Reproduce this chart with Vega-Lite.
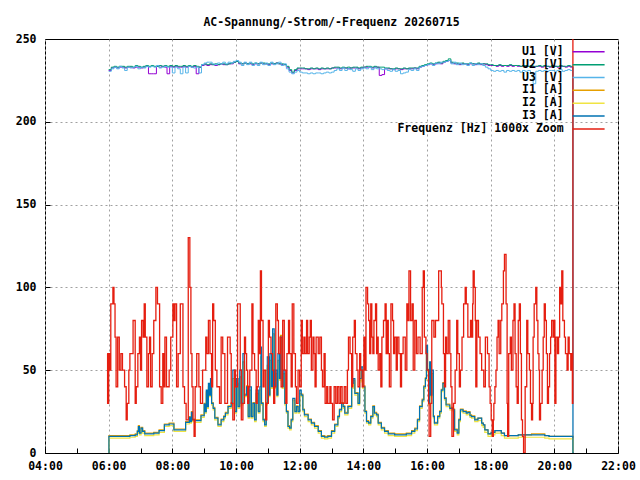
{
"$schema": "https://vega.github.io/schema/vega-lite/v6.json",
"width": 573, "height": 414,
"autosize": "none",
"padding": {"left": 45, "top": 39, "right": 22, "bottom": 27},
"background": "white",
"title": {"text": "AC-Spannung/-Strom/-Frequenz 20260715", "font": "DejaVu Sans Mono", "fontSize": 11.5, "fontWeight": "bold", "anchor": "middle", "frame": "group", "baseline": "alphabetic", "offset": 14, "dy": 18, "color": "black"},
"datasets": {
"volt": [
{"m":360,"u1":231,"u2":231.5,"u3":230.5},{"m":365,"u1":232.5,"u2":233,"u3":232},{"m":370,"u1":233,"u2":233.5,"u3":233},{"m":375,"u1":232.5,"u2":233,"u3":232},{"m":380,"u1":233,"u2":233.5,"u3":233.5},{"m":385,"u1":233,"u2":233.5,"u3":232.5},{"m":390,"u1":232.5,"u2":233,"u3":231},{"m":395,"u1":233,"u2":233.5,"u3":233},{"m":400,"u1":233,"u2":233.5,"u3":232.5},{"m":405,"u1":232.5,"u2":233,"u3":233},{"m":410,"u1":233,"u2":234,"u3":233.5},{"m":415,"u1":233,"u2":233.5,"u3":232},{"m":420,"u1":232.5,"u2":233,"u3":233},{"m":425,"u1":233,"u2":233.5,"u3":232.5},{"m":430,"u1":233.5,"u2":234,"u3":233.5},{"m":435,"u1":229,"u2":233.5,"u3":233},{"m":440,"u1":229,"u2":234,"u3":233.5},{"m":445,"u1":229,"u2":233.5,"u3":233},{"m":450,"u1":233.5,"u2":233.5,"u3":234},{"m":455,"u1":233,"u2":234,"u3":232.5},{"m":460,"u1":233.5,"u2":233.5,"u3":233},{"m":465,"u1":233,"u2":234,"u3":233.5},{"m":470,"u1":229,"u2":233.5,"u3":233},{"m":475,"u1":233.5,"u2":234,"u3":233},{"m":480,"u1":233,"u2":233.5,"u3":229.5},{"m":485,"u1":233.5,"u2":234,"u3":233},{"m":490,"u1":233,"u2":233.5,"u3":232},{"m":495,"u1":233,"u2":233.5,"u3":229},{"m":500,"u1":233.5,"u2":234,"u3":233},{"m":505,"u1":233,"u2":233.5,"u3":229.5},{"m":510,"u1":233.5,"u2":234,"u3":233.5},{"m":515,"u1":233,"u2":233.5,"u3":233},{"m":520,"u1":233.5,"u2":234,"u3":232.5},{"m":525,"u1":229,"u2":233.5,"u3":233},{"m":530,"u1":233,"u2":233,"u3":229.5},{"m":535,"u1":234,"u2":234.5,"u3":234.5},{"m":540,"u1":234.5,"u2":235,"u3":235.5},{"m":545,"u1":234,"u2":234.5,"u3":236},{"m":550,"u1":234.5,"u2":235,"u3":236},{"m":555,"u1":234.5,"u2":234.5,"u3":235},{"m":560,"u1":234,"u2":235,"u3":234.5},{"m":565,"u1":234.5,"u2":234.5,"u3":235.5},{"m":570,"u1":235,"u2":235,"u3":235},{"m":575,"u1":234.5,"u2":235,"u3":236},{"m":580,"u1":234.5,"u2":234.5,"u3":235},{"m":585,"u1":235,"u2":235,"u3":236},{"m":590,"u1":235,"u2":235.5,"u3":235.5},{"m":595,"u1":236,"u2":236,"u3":236.5},{"m":600,"u1":236.5,"u2":236.5,"u3":237},{"m":605,"u1":235,"u2":235.5,"u3":236},{"m":610,"u1":235,"u2":235,"u3":234},{"m":615,"u1":235.5,"u2":235.5,"u3":236},{"m":620,"u1":235,"u2":235,"u3":234.5},{"m":625,"u1":235,"u2":235.5,"u3":236},{"m":630,"u1":234.5,"u2":235,"u3":234},{"m":635,"u1":235,"u2":235.5,"u3":235.5},{"m":640,"u1":235,"u2":235,"u3":234},{"m":645,"u1":235.5,"u2":235.5,"u3":236},{"m":650,"u1":235,"u2":235.5,"u3":234.5},{"m":655,"u1":235,"u2":235,"u3":235.5},{"m":660,"u1":234.5,"u2":235,"u3":234},{"m":665,"u1":235,"u2":235.5,"u3":236},{"m":670,"u1":235,"u2":235,"u3":234.5},{"m":675,"u1":235.5,"u2":235.5,"u3":235},{"m":680,"u1":235,"u2":235,"u3":236},{"m":685,"u1":234.5,"u2":235,"u3":234},{"m":690,"u1":234.5,"u2":234.5,"u3":235},{"m":695,"u1":233,"u2":233.5,"u3":232},{"m":700,"u1":231,"u2":231.5,"u3":230},{"m":705,"u1":229.5,"u2":230,"u3":229},{"m":710,"u1":231,"u2":231.5,"u3":230},{"m":715,"u1":232,"u2":232.5,"u3":231},{"m":720,"u1":232,"u2":232.5,"u3":230},{"m":725,"u1":232,"u2":232.5,"u3":229.5},{"m":730,"u1":232,"u2":232,"u3":229.5},{"m":735,"u1":231.5,"u2":232,"u3":229},{"m":740,"u1":232,"u2":232.5,"u3":229.5},{"m":745,"u1":232,"u2":232,"u3":229},{"m":750,"u1":232,"u2":232.5,"u3":229.5},{"m":755,"u1":231.5,"u2":232,"u3":229.5},{"m":760,"u1":232,"u2":232.5,"u3":229},{"m":765,"u1":232,"u2":232,"u3":229.5},{"m":770,"u1":232,"u2":232.5,"u3":230},{"m":775,"u1":232,"u2":232,"u3":229.5},{"m":780,"u1":232.5,"u2":232.5,"u3":230},{"m":785,"u1":232.5,"u2":233,"u3":231},{"m":790,"u1":232.5,"u2":233,"u3":232},{"m":795,"u1":232,"u2":232.5,"u3":231},{"m":800,"u1":232.5,"u2":233,"u3":232.5},{"m":805,"u1":232.5,"u2":232.5,"u3":231},{"m":810,"u1":232,"u2":233,"u3":232},{"m":815,"u1":232.5,"u2":232.5,"u3":231.5},{"m":820,"u1":232.5,"u2":233,"u3":230.5},{"m":825,"u1":232.5,"u2":233,"u3":232},{"m":830,"u1":232,"u2":232.5,"u3":231},{"m":835,"u1":232.5,"u2":233,"u3":232},{"m":840,"u1":233,"u2":233,"u3":232.5},{"m":845,"u1":233,"u2":233.5,"u3":232},{"m":850,"u1":233,"u2":233.5,"u3":233},{"m":855,"u1":232.5,"u2":233,"u3":231.5},{"m":860,"u1":233,"u2":233.5,"u3":232.5},{"m":865,"u1":233,"u2":233,"u3":232},{"m":870,"u1":228,"u2":233,"u3":232},{"m":875,"u1":228.5,"u2":233,"u3":231.5},{"m":880,"u1":232,"u2":232.5,"u3":232},{"m":885,"u1":232,"u2":232.5,"u3":231},{"m":890,"u1":232,"u2":232,"u3":230.5},{"m":895,"u1":231.5,"u2":232,"u3":231.5},{"m":900,"u1":232,"u2":232.5,"u3":230.5},{"m":905,"u1":232,"u2":232,"u3":231},{"m":910,"u1":231.5,"u2":232,"u3":229},{"m":915,"u1":232,"u2":232.5,"u3":229.5},{"m":920,"u1":232,"u2":232,"u3":230},{"m":925,"u1":232,"u2":232.5,"u3":231.5},{"m":930,"u1":232,"u2":232.5,"u3":231},{"m":935,"u1":232.5,"u2":232.5,"u3":232},{"m":940,"u1":232,"u2":232.5,"u3":231},{"m":945,"u1":233,"u2":233.5,"u3":233},{"m":950,"u1":233.5,"u2":234,"u3":233.5},{"m":955,"u1":234,"u2":234.5,"u3":234},{"m":960,"u1":234.5,"u2":235,"u3":234.5},{"m":965,"u1":235,"u2":235.5,"u3":235},{"m":970,"u1":234.5,"u2":235,"u3":234},{"m":975,"u1":235,"u2":235.5,"u3":235.5},{"m":980,"u1":235.5,"u2":236,"u3":235},{"m":985,"u1":235,"u2":235.5,"u3":236},{"m":990,"u1":236,"u2":236.5,"u3":236},{"m":995,"u1":236.5,"u2":237,"u3":236.5},{"m":1000,"u1":237,"u2":238,"u3":237},{"m":1005,"u1":235.5,"u2":236,"u3":235},{"m":1010,"u1":235,"u2":235.5,"u3":236},{"m":1015,"u1":235,"u2":235.5,"u3":234.5},{"m":1020,"u1":234.5,"u2":235,"u3":235.5},{"m":1025,"u1":235,"u2":235.5,"u3":234.5},{"m":1030,"u1":235,"u2":235,"u3":235},{"m":1035,"u1":234.5,"u2":235,"u3":234},{"m":1040,"u1":235,"u2":235.5,"u3":235.5},{"m":1045,"u1":235,"u2":235,"u3":234},{"m":1050,"u1":234.5,"u2":235,"u3":235},{"m":1055,"u1":235,"u2":235.5,"u3":234.5},{"m":1060,"u1":234.5,"u2":235,"u3":235},{"m":1065,"u1":235,"u2":235,"u3":234},{"m":1070,"u1":234.5,"u2":235,"u3":233},{"m":1075,"u1":234,"u2":234.5,"u3":232},{"m":1080,"u1":234,"u2":234.5,"u3":231},{"m":1085,"u1":234,"u2":234,"u3":230.5},{"m":1090,"u1":233.5,"u2":234,"u3":231},{"m":1095,"u1":234,"u2":234.5,"u3":230.5},{"m":1100,"u1":233.5,"u2":234,"u3":231},{"m":1105,"u1":234,"u2":234,"u3":230},{"m":1110,"u1":233.5,"u2":234,"u3":231},{"m":1115,"u1":234,"u2":234.5,"u3":230.5},{"m":1120,"u1":233.5,"u2":234,"u3":231},{"m":1125,"u1":234,"u2":234,"u3":230.5},{"m":1130,"u1":233.5,"u2":234,"u3":231},{"m":1135,"u1":233.5,"u2":233.5,"u3":230},{"m":1140,"u1":234,"u2":234,"u3":231},{"m":1145,"u1":233.5,"u2":234,"u3":230.5},{"m":1150,"u1":233.5,"u2":233.5,"u3":231},{"m":1155,"u1":233.5,"u2":234,"u3":229},{"m":1160,"u1":233,"u2":233.5,"u3":223},{"m":1165,"u1":233.5,"u2":233.5,"u3":230.5},{"m":1170,"u1":233.5,"u2":234,"u3":231},{"m":1175,"u1":233,"u2":233.5,"u3":230.5},{"m":1180,"u1":233.5,"u2":234,"u3":231},{"m":1185,"u1":233.5,"u2":233.5,"u3":230.5},{"m":1190,"u1":233,"u2":233.5,"u3":231},{"m":1195,"u1":233.5,"u2":234,"u3":231},{"m":1200,"u1":233.5,"u2":233.5,"u3":230.5},{"m":1205,"u1":233,"u2":233.5,"u3":231},{"m":1210,"u1":233.5,"u2":234,"u3":231.5},{"m":1215,"u1":233.5,"u2":233.5,"u3":230.5},{"m":1220,"u1":233,"u2":233.5,"u3":231},{"m":1225,"u1":233.5,"u2":234,"u3":231.5},{"m":1230,"u1":233,"u2":233.5,"u3":231},{"m":1235,"u1":0,"u2":0,"u3":0},{"m":1237,"u1":0,"u2":0,"u3":0}
],
"cur": [
{"m":360,"i1":0,"i2":0,"i3":0},{"m":360.5,"i1":10.5,"i2":9,"i3":10},{"m":380,"i1":10.5,"i2":9,"i3":10},{"m":400,"i1":11,"i2":9.5,"i3":10.5},{"m":410,"i1":11.5,"i2":10,"i3":11},{"m":414,"i1":13.5,"i2":12,"i3":13},{"m":416,"i1":16.5,"i2":15,"i3":16},{"m":418,"i1":12.5,"i2":11,"i3":12},{"m":421,"i1":15.5,"i2":14,"i3":15},{"m":424,"i1":13.5,"i2":12,"i3":13},{"m":428,"i1":12,"i2":10.5,"i3":11.5},{"m":445,"i1":12.5,"i2":11,"i3":12},{"m":455,"i1":14,"i2":12.5,"i3":13.5},{"m":465,"i1":17.5,"i2":16,"i3":17},{"m":474,"i1":18,"i2":16.5,"i3":17.5},{"m":483,"i1":14.5,"i2":13,"i3":14},{"m":505,"i1":19,"i2":17.5,"i3":18.5},{"m":512,"i1":22,"i2":20.5,"i3":21.5},{"m":514,"i1":19.5,"i2":18,"i3":19},{"m":516,"i1":25,"i2":23.5,"i3":24.5},{"m":518,"i1":20.5,"i2":19,"i3":20},{"m":522,"i1":20,"i2":18.5,"i3":19.5},{"m":534,"i1":23,"i2":21.5,"i3":22.5},{"m":540,"i1":30,"i2":28.5,"i3":29.5},{"m":542,"i1":25.5,"i2":24,"i3":25},{"m":544,"i1":37,"i2":35.5,"i3":38},{"m":546,"i1":28.5,"i2":27,"i3":28},{"m":548,"i1":40,"i2":38.5,"i3":42},{"m":550,"i1":35.5,"i2":34,"i3":35},{"m":552,"i1":43,"i2":41.5,"i3":45},{"m":554,"i1":30.5,"i2":29,"i3":30},{"m":557,"i1":27.5,"i2":26,"i3":27},{"m":560,"i1":21.5,"i2":20,"i3":21},{"m":566,"i1":17.5,"i2":16,"i3":17},{"m":572,"i1":20.5,"i2":19,"i3":20},{"m":577,"i1":22.5,"i2":21,"i3":22},{"m":580,"i1":24.5,"i2":23,"i3":24},{"m":585,"i1":28.5,"i2":27,"i3":28},{"m":591,"i1":30.5,"i2":29,"i3":30},{"m":594,"i1":45,"i2":44,"i3":50},{"m":598,"i1":25.5,"i2":24,"i3":25},{"m":601,"i1":42,"i2":40,"i3":45},{"m":604,"i1":28.5,"i2":27,"i3":28},{"m":607,"i1":46,"i2":44,"i3":50},{"m":610,"i1":30.5,"i2":29,"i3":30},{"m":613,"i1":55,"i2":53,"i3":60},{"m":616,"i1":35.5,"i2":34,"i3":35},{"m":620,"i1":40.5,"i2":39,"i3":40},{"m":623,"i1":22.5,"i2":21,"i3":22},{"m":626,"i1":38,"i2":37,"i3":40},{"m":629,"i1":22.5,"i2":21,"i3":22},{"m":632,"i1":30.5,"i2":29,"i3":30},{"m":635,"i1":20.5,"i2":19,"i3":20},{"m":638,"i1":36,"i2":35,"i3":38},{"m":642,"i1":25.5,"i2":24,"i3":25},{"m":645,"i1":38,"i2":37,"i3":40},{"m":647,"i1":58,"i2":56,"i3":64},{"m":648,"i1":30.5,"i2":29,"i3":30},{"m":651,"i1":20.5,"i2":19,"i3":20},{"m":654,"i1":17.5,"i2":16,"i3":17},{"m":657,"i1":30.5,"i2":29,"i3":30},{"m":659,"i1":53,"i2":51,"i3":58},{"m":662,"i1":35.5,"i2":34,"i3":35},{"m":664,"i1":56,"i2":54,"i3":60},{"m":667,"i1":40.5,"i2":39,"i3":40},{"m":669,"i1":72,"i2":70,"i3":75},{"m":672,"i1":40.5,"i2":39,"i3":40},{"m":674,"i1":48,"i2":47,"i3":50},{"m":677,"i1":35.5,"i2":34,"i3":35},{"m":679,"i1":56,"i2":54,"i3":60},{"m":682,"i1":45.5,"i2":44,"i3":45},{"m":684,"i1":71,"i2":69,"i3":70},{"m":687,"i1":40.5,"i2":39,"i3":40},{"m":689,"i1":48,"i2":47,"i3":50},{"m":692,"i1":30.5,"i2":29,"i3":30},{"m":695,"i1":25.5,"i2":24,"i3":25},{"m":698,"i1":16.5,"i2":15,"i3":16},{"m":701,"i1":15.5,"i2":14,"i3":15},{"m":704,"i1":20.5,"i2":19,"i3":20},{"m":707,"i1":32,"i2":31,"i3":33},{"m":711,"i1":25.5,"i2":24,"i3":25},{"m":714,"i1":28.5,"i2":27,"i3":28},{"m":717,"i1":25.5,"i2":24,"i3":25},{"m":720,"i1":36,"i2":35,"i3":38},{"m":723,"i1":35.5,"i2":34,"i3":35},{"m":726,"i1":26.5,"i2":25,"i3":26},{"m":729,"i1":23.5,"i2":22,"i3":23},{"m":736,"i1":20.5,"i2":19,"i3":20},{"m":742,"i1":18.5,"i2":17,"i3":18},{"m":748,"i1":16.5,"i2":15,"i3":16},{"m":755,"i1":13.5,"i2":12,"i3":13},{"m":761,"i1":10.5,"i2":9,"i3":10},{"m":767,"i1":10,"i2":8.5,"i3":9.5},{"m":773,"i1":10.5,"i2":9,"i3":10},{"m":780,"i1":13.5,"i2":12,"i3":13},{"m":786,"i1":17.5,"i2":16,"i3":17},{"m":792,"i1":22.5,"i2":21,"i3":22},{"m":795,"i1":26.5,"i2":25,"i3":26},{"m":799,"i1":30.5,"i2":29,"i3":30},{"m":802,"i1":28.5,"i2":27,"i3":28},{"m":805,"i1":24.5,"i2":23,"i3":24},{"m":811,"i1":28.5,"i2":27,"i3":28},{"m":818,"i1":40,"i2":39,"i3":42},{"m":821,"i1":44,"i2":43,"i3":45},{"m":824,"i1":36.5,"i2":35,"i3":36},{"m":830,"i1":30.5,"i2":29,"i3":30},{"m":833,"i1":44,"i2":43,"i3":45},{"m":836,"i1":50,"i2":49,"i3":52},{"m":839,"i1":40.5,"i2":39,"i3":40},{"m":843,"i1":25.5,"i2":24,"i3":25},{"m":846,"i1":19.5,"i2":18,"i3":19},{"m":850,"i1":18.5,"i2":17,"i3":18},{"m":854,"i1":22.5,"i2":21,"i3":22},{"m":858,"i1":28.5,"i2":27,"i3":28},{"m":861,"i1":24.5,"i2":23,"i3":24},{"m":865,"i1":23.5,"i2":22,"i3":23},{"m":868,"i1":18.5,"i2":17,"i3":18},{"m":874,"i1":15.5,"i2":14,"i3":15},{"m":880,"i1":13.5,"i2":12,"i3":13},{"m":887,"i1":12,"i2":10.5,"i3":11.5},{"m":899,"i1":11.5,"i2":10,"i3":11},{"m":912,"i1":11.5,"i2":10,"i3":11},{"m":921,"i1":12,"i2":10.5,"i3":11.5},{"m":931,"i1":13.5,"i2":12,"i3":13},{"m":937,"i1":15,"i2":13.5,"i3":14.5},{"m":942,"i1":20.5,"i2":19,"i3":20},{"m":946,"i1":28.5,"i2":27,"i3":28},{"m":951,"i1":32.5,"i2":31,"i3":32},{"m":954,"i1":40.5,"i2":39,"i3":40},{"m":957,"i1":45.5,"i2":44,"i3":45},{"m":959,"i1":62,"i2":60,"i3":65},{"m":961,"i1":50.5,"i2":49,"i3":50},{"m":963,"i1":30.5,"i2":29,"i3":30},{"m":965,"i1":53,"i2":52,"i3":55},{"m":967,"i1":35.5,"i2":34,"i3":35},{"m":969,"i1":48,"i2":47,"i3":50},{"m":972,"i1":22.5,"i2":21,"i3":22},{"m":974,"i1":18.5,"i2":17,"i3":18},{"m":980,"i1":22.5,"i2":21,"i3":22},{"m":984,"i1":25.5,"i2":24,"i3":25},{"m":987,"i1":38.5,"i2":37,"i3":38},{"m":990,"i1":42.5,"i2":41,"i3":42},{"m":993,"i1":33.5,"i2":32,"i3":33},{"m":996,"i1":29.5,"i2":28,"i3":29},{"m":1003,"i1":27.5,"i2":26,"i3":27},{"m":1009,"i1":26.5,"i2":25,"i3":26},{"m":1012,"i1":14.5,"i2":13,"i3":14},{"m":1017,"i1":12.5,"i2":11,"i3":12},{"m":1020,"i1":20.5,"i2":19,"i3":20},{"m":1023,"i1":26.5,"i2":25,"i3":26},{"m":1028,"i1":25.5,"i2":24,"i3":25},{"m":1034,"i1":24.5,"i2":23,"i3":24},{"m":1037,"i1":25,"i2":23.5,"i3":24.5},{"m":1041,"i1":23,"i2":21.5,"i3":22.5},{"m":1044,"i1":22.5,"i2":21,"i3":22},{"m":1050,"i1":20.5,"i2":19,"i3":20},{"m":1056,"i1":21,"i2":19.5,"i3":21},{"m":1063,"i1":18,"i2":16.5,"i3":18},{"m":1066,"i1":17,"i2":15.5,"i3":17},{"m":1069,"i1":14,"i2":12.5,"i3":14},{"m":1075,"i1":11.5,"i2":10,"i3":11.5},{"m":1081,"i1":12.5,"i2":11,"i3":12.5},{"m":1088,"i1":13.5,"i2":12,"i3":13.5},{"m":1094,"i1":13.5,"i2":12,"i3":13.5},{"m":1100,"i1":12,"i2":10.5,"i3":12},{"m":1106,"i1":10.5,"i2":9,"i3":10.5},{"m":1132,"i1":11,"i2":9.5,"i3":11},{"m":1157,"i1":11.5,"i2":9.5,"i3":11},{"m":1182,"i1":10.5,"i2":9,"i3":10.5},{"m":1190,"i1":10,"i2":8.5,"i3":10},{"m":1235,"i1":0,"i2":0,"i3":0},{"m":1237,"i1":0,"i2":0,"i3":0}
],
"freq": [
{"m":357,"f":60},{"m":358,"f":30},{"m":360,"f":60},{"m":362,"f":50},{"m":364,"f":90},{"m":368,"f":100},{"m":370,"f":90},{"m":372,"f":70},{"m":374,"f":40},{"m":377,"f":70},{"m":380,"f":50},{"m":383,"f":60},{"m":386,"f":50},{"m":390,"f":40},{"m":393,"f":20},{"m":395,"f":30},{"m":398,"f":50},{"m":400,"f":60},{"m":406,"f":80},{"m":410,"f":30},{"m":412,"f":40},{"m":415,"f":60},{"m":418,"f":70},{"m":420,"f":50},{"m":422,"f":80},{"m":425,"f":70},{"m":427,"f":90},{"m":429,"f":70},{"m":432,"f":40},{"m":435,"f":60},{"m":437,"f":70},{"m":439,"f":40},{"m":442,"f":60},{"m":445,"f":80},{"m":449,"f":100},{"m":452,"f":90},{"m":456,"f":40},{"m":459,"f":30},{"m":462,"f":60},{"m":464,"f":40},{"m":466,"f":70},{"m":469,"f":40},{"m":474,"f":50},{"m":477,"f":70},{"m":481,"f":90},{"m":483,"f":80},{"m":485,"f":90},{"m":488,"f":40},{"m":491,"f":60},{"m":495,"f":90},{"m":500,"f":40},{"m":503,"f":30},{"m":506,"f":20},{"m":510,"f":130},{"m":513,"f":100},{"m":515,"f":60},{"m":517,"f":40},{"m":519,"f":20},{"m":521,"f":10},{"m":523,"f":40},{"m":526,"f":60},{"m":530,"f":40},{"m":533,"f":30},{"m":537,"f":50},{"m":543,"f":70},{"m":545,"f":60},{"m":548,"f":80},{"m":551,"f":60},{"m":554,"f":40},{"m":556,"f":90},{"m":558,"f":80},{"m":561,"f":50},{"m":564,"f":40},{"m":569,"f":30},{"m":572,"f":70},{"m":575,"f":60},{"m":579,"f":30},{"m":584,"f":70},{"m":589,"f":60},{"m":591,"f":30},{"m":594,"f":20},{"m":597,"f":50},{"m":599,"f":40},{"m":603,"f":90},{"m":608,"f":50},{"m":610,"f":20},{"m":613,"f":30},{"m":616,"f":70},{"m":618,"f":60},{"m":620,"f":50},{"m":622,"f":30},{"m":624,"f":40},{"m":626,"f":50},{"m":630,"f":90},{"m":632,"f":60},{"m":635,"f":50},{"m":638,"f":30},{"m":640,"f":40},{"m":642,"f":80},{"m":644,"f":60},{"m":646,"f":110},{"m":648,"f":80},{"m":651,"f":40},{"m":653,"f":50},{"m":656,"f":20},{"m":658,"f":30},{"m":661,"f":80},{"m":663,"f":70},{"m":666,"f":60},{"m":669,"f":50},{"m":671,"f":30},{"m":673,"f":40},{"m":675,"f":90},{"m":678,"f":80},{"m":680,"f":60},{"m":683,"f":70},{"m":685,"f":40},{"m":688,"f":80},{"m":691,"f":50},{"m":694,"f":30},{"m":696,"f":60},{"m":699,"f":80},{"m":701,"f":60},{"m":704,"f":40},{"m":706,"f":90},{"m":709,"f":60},{"m":712,"f":40},{"m":714,"f":30},{"m":717,"f":50},{"m":720,"f":40},{"m":723,"f":80},{"m":725,"f":60},{"m":728,"f":70},{"m":730,"f":60},{"m":733,"f":80},{"m":735,"f":60},{"m":738,"f":70},{"m":740,"f":80},{"m":742,"f":50},{"m":745,"f":70},{"m":747,"f":60},{"m":749,"f":40},{"m":751,"f":70},{"m":755,"f":60},{"m":758,"f":70},{"m":761,"f":50},{"m":763,"f":40},{"m":766,"f":60},{"m":768,"f":30},{"m":771,"f":40},{"m":773,"f":30},{"m":777,"f":40},{"m":779,"f":30},{"m":782,"f":20},{"m":785,"f":40},{"m":788,"f":30},{"m":791,"f":40},{"m":794,"f":30},{"m":797,"f":40},{"m":800,"f":30},{"m":804,"f":40},{"m":807,"f":30},{"m":810,"f":50},{"m":812,"f":70},{"m":815,"f":60},{"m":818,"f":40},{"m":820,"f":70},{"m":823,"f":80},{"m":825,"f":60},{"m":828,"f":50},{"m":830,"f":40},{"m":833,"f":60},{"m":835,"f":50},{"m":838,"f":40},{"m":841,"f":70},{"m":843,"f":50},{"m":845,"f":100},{"m":848,"f":90},{"m":850,"f":80},{"m":852,"f":60},{"m":854,"f":90},{"m":856,"f":70},{"m":858,"f":60},{"m":860,"f":80},{"m":863,"f":90},{"m":865,"f":60},{"m":866,"f":70},{"m":868,"f":50},{"m":871,"f":60},{"m":873,"f":40},{"m":875,"f":70},{"m":878,"f":80},{"m":881,"f":90},{"m":883,"f":60},{"m":885,"f":80},{"m":887,"f":60},{"m":889,"f":40},{"m":892,"f":90},{"m":895,"f":80},{"m":897,"f":60},{"m":899,"f":70},{"m":902,"f":50},{"m":904,"f":70},{"m":907,"f":60},{"m":910,"f":40},{"m":912,"f":60},{"m":915,"f":70},{"m":919,"f":50},{"m":922,"f":90},{"m":924,"f":80},{"m":926,"f":110},{"m":929,"f":80},{"m":932,"f":90},{"m":934,"f":50},{"m":937,"f":80},{"m":940,"f":60},{"m":943,"f":70},{"m":947,"f":60},{"m":951,"f":100},{"m":953,"f":110},{"m":955,"f":70},{"m":958,"f":60},{"m":960,"f":50},{"m":963,"f":30},{"m":964,"f":10},{"m":967,"f":30},{"m":969,"f":80},{"m":973,"f":70},{"m":976,"f":80},{"m":982,"f":110},{"m":987,"f":100},{"m":988,"f":90},{"m":991,"f":60},{"m":993,"f":40},{"m":995,"f":70},{"m":997,"f":60},{"m":1000,"f":80},{"m":1003,"f":60},{"m":1005,"f":40},{"m":1007,"f":10},{"m":1010,"f":30},{"m":1013,"f":50},{"m":1016,"f":80},{"m":1018,"f":60},{"m":1021,"f":40},{"m":1023,"f":50},{"m":1026,"f":70},{"m":1029,"f":90},{"m":1032,"f":100},{"m":1034,"f":90},{"m":1037,"f":70},{"m":1042,"f":80},{"m":1044,"f":70},{"m":1046,"f":90},{"m":1047,"f":110},{"m":1049,"f":100},{"m":1051,"f":80},{"m":1052,"f":40},{"m":1054,"f":80},{"m":1057,"f":70},{"m":1060,"f":60},{"m":1063,"f":50},{"m":1067,"f":40},{"m":1070,"f":70},{"m":1074,"f":60},{"m":1077,"f":40},{"m":1079,"f":30},{"m":1081,"f":20},{"m":1083,"f":10},{"m":1085,"f":20},{"m":1086,"f":30},{"m":1088,"f":40},{"m":1090,"f":50},{"m":1092,"f":70},{"m":1094,"f":80},{"m":1096,"f":60},{"m":1099,"f":80},{"m":1101,"f":90},{"m":1104,"f":110},{"m":1106,"f":120},{"m":1109,"f":90},{"m":1111,"f":30},{"m":1112,"f":10},{"m":1114,"f":60},{"m":1117,"f":70},{"m":1119,"f":50},{"m":1122,"f":80},{"m":1124,"f":90},{"m":1126,"f":60},{"m":1128,"f":40},{"m":1130,"f":30},{"m":1132,"f":80},{"m":1134,"f":90},{"m":1136,"f":60},{"m":1138,"f":20},{"m":1140,"f":10},{"m":1142,"f":0},{"m":1145,"f":40},{"m":1148,"f":80},{"m":1150,"f":60},{"m":1153,"f":50},{"m":1155,"f":30},{"m":1157,"f":20},{"m":1159,"f":30},{"m":1160,"f":70},{"m":1162,"f":90},{"m":1165,"f":100},{"m":1167,"f":80},{"m":1169,"f":60},{"m":1171,"f":50},{"m":1172,"f":20},{"m":1174,"f":30},{"m":1177,"f":50},{"m":1179,"f":70},{"m":1181,"f":90},{"m":1183,"f":80},{"m":1185,"f":60},{"m":1187,"f":30},{"m":1189,"f":40},{"m":1191,"f":60},{"m":1193,"f":70},{"m":1195,"f":80},{"m":1198,"f":70},{"m":1199,"f":80},{"m":1201,"f":30},{"m":1203,"f":70},{"m":1206,"f":60},{"m":1208,"f":70},{"m":1210,"f":100},{"m":1212,"f":90},{"m":1214,"f":110},{"m":1216,"f":80},{"m":1219,"f":70},{"m":1221,"f":60},{"m":1224,"f":50},{"m":1226,"f":70},{"m":1228,"f":60},{"m":1231,"f":50},{"m":1233,"f":60},{"m":1234,"f":30},{"m":1235,"f":300}
]
},
"encoding": {
"x": {"field": "m", "type": "quantitative",
 "scale": {"domain": [240, 1320], "nice": false, "zero": false},
 "axis": {"title": null, "values": [240,300,360,420,480,540,600,660,720,780,840,900,960,1020,1080,1140,1200,1260,1320],
  "labelExpr": "datum.value % 120 == 0 ? (datum.value < 600 ? '0' : '') + floor(datum.value/60) + ':00' : ''",
  "labelOverlap": false, "labelFlush": false, "labelBound": false,
  "grid": true, "gridOpacity": {"condition": {"test": "datum.value % 120 == 0", "value": 1}, "value": 0},
  "tickSize": -5, "labelPadding": 12}},
"y": {"field": "v", "type": "quantitative",
 "scale": {"domain": [0, 250], "nice": false},
 "axis": {"title": null, "values": [0,50,100,150,200,250], "labelOverlap": false, "labelFlush": false,
  "grid": true, "gridOpacity": {"condition": {"test": "datum.value > 0 && datum.value < 250", "value": 1}, "value": 0},
  "tickSize": -5, "labelPadding": 14}},
"color": {"field": "s", "type": "nominal",
 "scale": {"domain": ["u1","u2","u3","i1","i2","i3","f"], "range": ["#9400d3","#009e73","#56b4e9","#e69f00","#f0e442","#0072b2","#e51e10"]},
 "legend": {"title": null, "orient": "none", "legendX": 537.6, "legendY": 6.8, "padding": 0,
  "symbolType": "M-3.2,0H3.2", "symbolSize": 100, "symbolStrokeWidth": 1.5,
  "labelAlign": "right", "labelOffset": -31, "rowPadding": 0.85, "labelLimit": 400,
  "labelFont": "DejaVu Sans Mono", "labelFontSize": 11.5, "labelFontWeight": "bold", "labelColor": "black",
  "labelExpr": "datum.label == 'u1' ? 'U1 [V]' : datum.label == 'u2' ? 'U2 [V]' : datum.label == 'u3' ? 'U3 [V]' : datum.label == 'i1' ? 'I1 [A]' : datum.label == 'i2' ? 'I2 [A]' : datum.label == 'i3' ? 'I3 [A]' : 'Frequenz [Hz] 1000x Zoom'"}}
},
"layer": [
{"data": {"name": "volt"}, "transform": [{"fold": ["u1","u2","u3"], "as": ["s","v"]}],
 "mark": {"type": "line", "interpolate": "step-after", "strokeWidth": 1, "clip": true}},
{"data": {"name": "cur"}, "transform": [{"fold": ["i1","i2","i3"], "as": ["s","v"]}],
 "mark": {"type": "line", "interpolate": "step-after", "strokeWidth": 1.2, "clip": true}},
{"data": {"name": "freq"}, "transform": [{"fold": ["f"], "as": ["s","v"]}],
 "mark": {"type": "line", "interpolate": "step-after", "strokeWidth": 1.3, "clip": true}}
],
"config": {
"view": {"stroke": "black", "strokeWidth": 1},
"axis": {"labelFont": "DejaVu Sans Mono", "labelFontSize": 11.5, "labelFontWeight": "bold", "labelColor": "black",
 "domain": false, "tickColor": "black", "gridColor": "#a0a0a0", "gridDash": [2,3], "gridWidth": 1}
}
}
